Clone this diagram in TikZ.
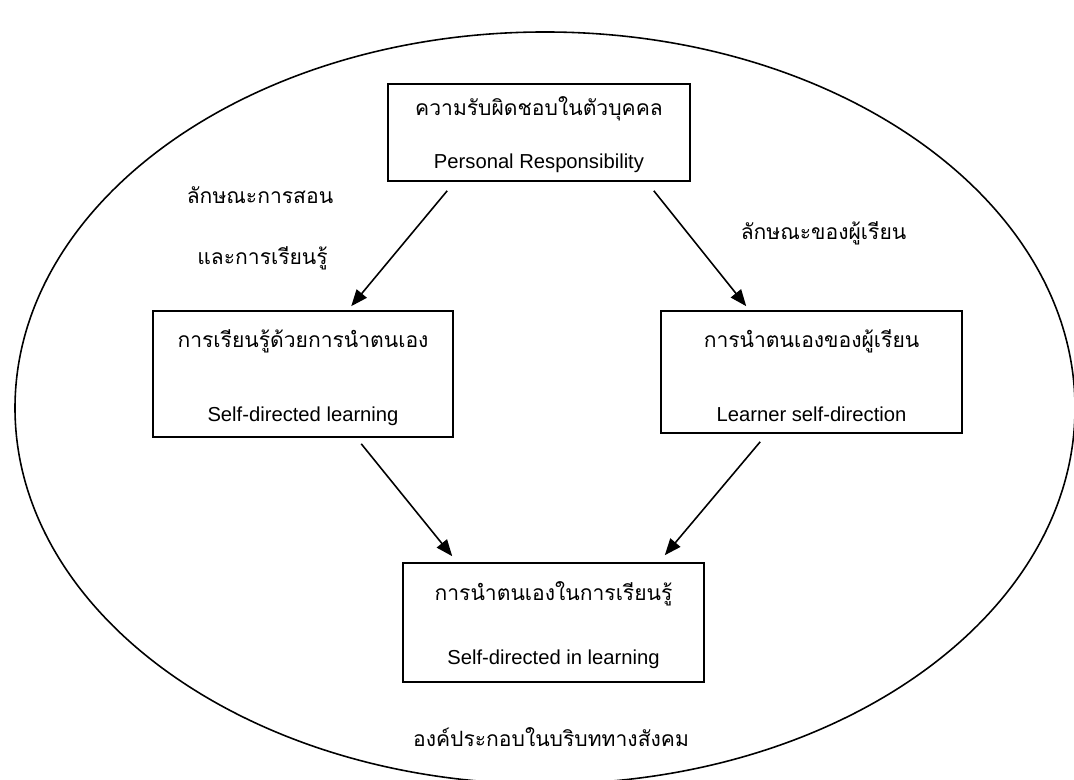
\documentclass[tikz,border=0pt]{standalone}
\usepackage{fontspec}
\setmainfont{Liberation Sans}
\newfontfamily\thaifont[Script=Thai]{Loma}
\usetikzlibrary{arrows.meta}

\tikzset{
    box/.style={draw, line width=0.9pt, inner sep=0pt},
    thai/.style={font=\thaifont\fontsize{12}{14}\selectfont, inner sep=0pt},
    eng/.style={font=\fontsize{11.5}{14}\selectfont, inner sep=0pt},
    arr/.style={line width=0.9pt, -{Triangle[length=3.3mm, width=2.6mm]}}
}

\begin{document}
\begin{tikzpicture}
    \useasboundingbox (0,0) rectangle (21.48,15.6);
    
    %social context
    \draw[line width=0.9pt] (10.9,7.44) ellipse (10.6cm and 7.52cm);
    \node[thai] (context) at (11.02,0.86) {องค์ประกอบในบริบททางสังคม};
    
    %boxes
    \node[box, minimum width=6.04cm, minimum height=1.94cm] (resp) at (10.78,12.95) {};
    \node[box, minimum width=6cm, minimum height=2.52cm] (sdl) at (6.06,8.12) {};
    \node[box, minimum width=6.02cm, minimum height=2.44cm] (lsd) at (16.23,8.16) {};
    \node[box, minimum width=6.02cm, minimum height=2.38cm] (sdil) at (11.07,3.15) {};
    
    \node[thai] (resp-th) at ([yshift=-0.52cm]resp.north) {ความรับผิดชอบในตัวบุคคล};
    \node[eng] (resp-en) at ([yshift=0.38cm]resp.south) {Personal Responsibility};
    \node[thai] (sdl-th) at ([yshift=-0.62cm]sdl.north) {การเรียนรู้ด้วยการนำตนเอง};
    \node[eng] (sdl-en) at ([yshift=0.44cm]sdl.south) {Self-directed learning};
    \node[thai] (lsd-th) at ([yshift=-0.62cm]lsd.north) {การนำตนเองของผู้เรียน};
    \node[eng] (lsd-en) at ([yshift=0.40cm]lsd.south) {Learner self-direction};
    \node[thai] (sdil-th) at ([yshift=-0.64cm]sdil.north) {การนำตนเองในการเรียนรู้};
    \node[eng] (sdil-en) at ([yshift=0.48cm]sdil.south) {Self-directed in learning};
    
    %side labels
    \node[thai] (teach) at (5.2,11.7) {ลักษณะการสอน};
    \node[thai] (learn) at (5.25,10.44) {และการเรียนรู้};
    \node[thai] (learner) at (16.47,10.94) {ลักษณะของผู้เรียน};
    
    %arrows
    \draw[arr] ([xshift=1.2cm, yshift=-0.18cm]resp.south west)
        -- ([xshift=3.98cm, yshift=0.08cm]sdl.north west);
    \draw[arr] ([xshift=-0.74cm, yshift=-0.18cm]resp.south east)
        -- ([xshift=1.72cm, yshift=0.08cm]lsd.north west);
    \draw[arr] ([xshift=4.18cm, yshift=-0.12cm]sdl.south west)
        -- ([xshift=1cm, yshift=0.12cm]sdil.north west);
    \draw[arr] ([xshift=2cm, yshift=-0.16cm]lsd.south west)
        -- ([xshift=-0.8cm, yshift=0.14cm]sdil.north east);
\end{tikzpicture}
\end{document}
